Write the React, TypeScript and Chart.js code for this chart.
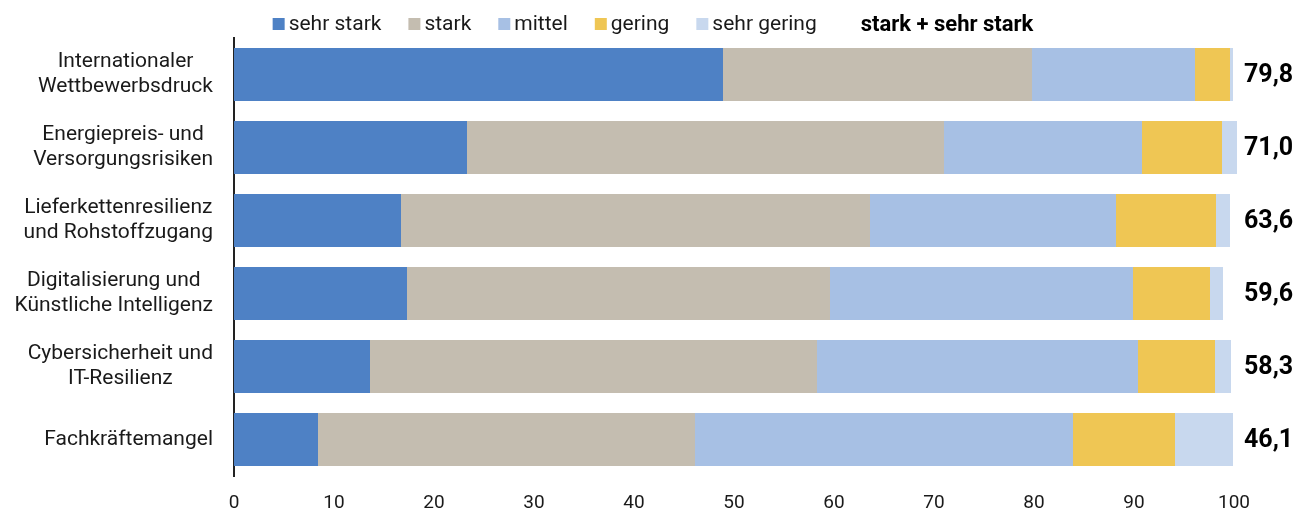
import React, { useEffect, useRef } from "react";
import { Chart, registerables } from "chart.js";

Chart.register(...registerables);

const categories: string[][] = [
  ["Internationaler", "Wettbewerbsdruck"],
  ["Energiepreis- und", "Versorgungsrisiken"],
  ["Lieferkettenresilienz", "und Rohstoffzugang"],
  ["Digitalisierung und", "Künstliche Intelligenz"],
  ["Cybersicherheit und", "IT-Resilienz"],
  ["Fachkräftemangel"],
];

const seriesNames = ["sehr stark", "stark", "mittel", "gering", "sehr gering"];
const seriesColors = ["#4e81c5", "#c4bdb0", "#a7c0e4", "#efc654", "#c8d8ee"];

const sehrStark = [48.9, 23.3, 16.7, 17.3, 13.6, 8.4];
const stark = [30.9, 47.7, 46.9, 42.3, 44.7, 37.7];
const mittel = [16.3, 19.8, 24.6, 30.3, 32.1, 37.8];
const gering = [3.5, 8.0, 10.0, 7.7, 7.7, 10.2];
const sehrGering = [0.3, 1.5, 1.4, 1.3, 1.6, 5.8];

const totals = [79.8, 71.0, 63.6, 59.6, 58.3, 46.1];
const totalsHeader = "stark + sehr stark";

const xTicks = [0, 10, 20, 30, 40, 50, 60, 70, 80, 90, 100];

const FONT = "Roboto, 'Noto Sans', sans-serif";

const overlayPlugin = {
  id: "overlay",
  afterDraw(chart: any) {
    const { ctx, chartArea, scales } = chart;
    const y = scales.y;
    const x = scales.x;
    ctx.save();

    // Legend
    ctx.font = `21px ${FONT}`;
    ctx.textBaseline = "middle";
    ctx.textAlign = "left";
    const box = 12;
    const boxGap = 4;
    const itemGap = 27;
    const headerGap = 44;
    const widths = seriesNames.map((n) => ctx.measureText(n).width);
    ctx.font = `bold 22px ${FONT}`;
    const headerW = ctx.measureText(totalsHeader).width;
    let total = 0;
    widths.forEach((w, i) => {
      total += box + boxGap + w + (i < widths.length - 1 ? itemGap : 0);
    });
    total += headerGap + headerW;
    let lx = chart.width / 2 + 5 - total / 2;
    const ly = 24;
    ctx.font = `21px ${FONT}`;
    seriesNames.forEach((n, i) => {
      ctx.fillStyle = seriesColors[i];
      ctx.fillRect(lx, ly - box / 2, box, box);
      ctx.fillStyle = "#1a1a1a";
      ctx.fillText(n, lx + box + boxGap, ly + 1);
      lx += box + boxGap + widths[i] + (i < widths.length - 1 ? itemGap : 0);
    });
    lx += headerGap;
    ctx.font = `bold 22px ${FONT}`;
    ctx.fillStyle = "#000";
    ctx.fillText(totalsHeader, lx, ly + 1);

    // Category labels (block right-aligned, lines centered)
    ctx.font = `21px ${FONT}`;
    ctx.fillStyle = "#1a1a1a";
    ctx.textAlign = "center";
    const lineH = 25;
    categories.forEach((lines, i) => {
      const cy = y.getPixelForValue(i);
      const bw = Math.max(...lines.map((l) => ctx.measureText(l).width));
      const right = chartArea.left - 21;
      const cx = right - bw / 2;
      const startY = cy - ((lines.length - 1) * lineH) / 2;
      lines.forEach((l, j) => ctx.fillText(l, cx, startY + j * lineH));
    });

    // Totals
    ctx.font = `bold 25px ${FONT}`;
    ctx.fillStyle = "#000";
    ctx.textAlign = "left";
    totals.forEach((t, i) => {
      const cy = y.getPixelForValue(i);
      ctx.fillText(t.toFixed(1).replace(".", ","), x.getPixelForValue(100) + 10, cy + 1);
    });

    ctx.restore();
  },
};

export default function App() {
  const ref = useRef<HTMLCanvasElement | null>(null);

  useEffect(() => {
    if (!ref.current) return;
    const data = [sehrStark, stark, mittel, gering, sehrGering];
    const chart = new Chart(ref.current, {
      type: "bar",
      data: {
        labels: categories,
        datasets: data.map((d, i) => ({
          label: seriesNames[i],
          data: d,
          backgroundColor: seriesColors[i],
          borderWidth: 0,
          barPercentage: 0.726,
          categoryPercentage: 1,
          clip: false as any,
        })),
      },
      options: {
        indexAxis: "y",
        responsive: true,
        maintainAspectRatio: false,
        animation: false,
        layout: { padding: { left: 234, right: 62, top: 38, bottom: 0 } },
        plugins: {
          legend: { display: false },
          tooltip: { enabled: false },
        },
        scales: {
          x: {
            stacked: true,
            min: 0,
            max: 100,
            afterBuildTicks: (s: any) => {
              s.ticks = xTicks.map((v) => ({ value: v }));
            },
            afterFit: (s: any) => {
              s.height = 36;
            },
            grid: { display: false, drawTicks: false },
            border: { display: false },
            ticks: {
              padding: 16,
              color: "#1a1a1a",
              font: { family: FONT, size: 19 },
            },
          },
          y: {
            stacked: true,
            grid: { display: false, drawTicks: false },
            border: { display: true, color: "#222", width: 2 },
            ticks: { display: false },
          },
        },
      },
      plugins: [overlayPlugin],
    });
    return () => chart.destroy();
  }, []);

  return (
    <div style={{ position: "absolute", left: 0, top: 0, width: 1296, height: 512, background: "#fff" }}>
      <canvas ref={ref} />
    </div>
  );
}
